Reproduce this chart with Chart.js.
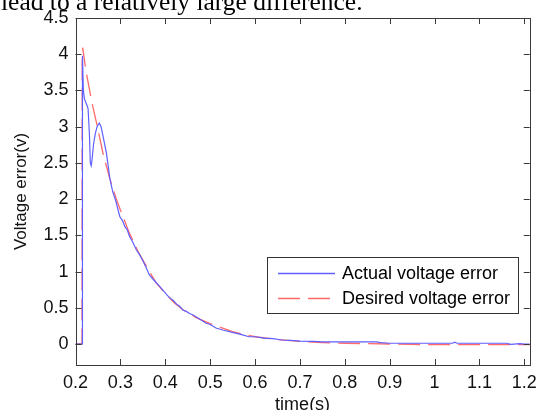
<!DOCTYPE html>
<html>
<head>
<meta charset="utf-8">
<script src="https://cdn.jsdelivr.net/npm/chart.js@4"></script>
<style>
  html, body { margin: 0; padding: 0; background: #fff; }
  #wrap { position: relative; width: 544px; height: 410px; overflow: hidden; }
  #caption { position: absolute; left: 1px; top: -11px; font: 25.5px "Liberation Serif", "DejaVu Serif", serif; line-height: 1; color: #000; white-space: nowrap; }
  canvas { position: absolute; left: 0; top: 0; }
</style>
</head>
<body>
<div id="wrap">
  <canvas id="c" width="544" height="410"></canvas>
  <div id="caption">lead to a relatively large difference.</div>
</div>
<script>
// ---- data ----
const seriesNames = ['Actual voltage error', 'Desired voltage error'];

const actualT = [0.2, 0.2145, 0.215, 0.216, 0.2175, 0.22, 0.224, 0.228, 0.231, 0.233, 0.235, 0.237, 0.24, 0.244, 0.248, 0.253, 0.257, 0.262, 0.269, 0.2764, 0.283, 0.29, 0.2986, 0.305, 0.31, 0.315, 0.3207, 0.328, 0.3355, 0.342, 0.35, 0.357, 0.365, 0.375, 0.387, 0.398, 0.409, 0.418, 0.425, 0.432, 0.439, 0.447, 0.454, 0.462, 0.47, 0.48, 0.49, 0.50, 0.513, 0.53, 0.55, 0.57, 0.5865, 0.60, 0.62, 0.64, 0.66, 0.68, 0.70, 0.73, 0.75, 0.80, 0.87, 0.88, 0.90, 0.95, 1.0, 1.04, 1.045, 1.05, 1.1, 1.16, 1.17, 1.19, 1.2, 1.212];
const actualV = [0, 0, 3.8, 3.98, 3.5, 3.38, 3.32, 3.25, 2.9, 2.5, 2.46, 2.55, 2.75, 2.9, 3.0, 3.05, 3.0, 2.85, 2.63, 2.29, 2.1, 1.97, 1.76, 1.70, 1.62, 1.58, 1.48, 1.40, 1.3, 1.24, 1.15, 1.06, 0.95, 0.88, 0.8, 0.72, 0.64, 0.60, 0.55, 0.52, 0.47, 0.45, 0.42, 0.40, 0.37, 0.33, 0.29, 0.27, 0.22, 0.19, 0.16, 0.13, 0.10, 0.10, 0.08, 0.075, 0.055, 0.05, 0.04, 0.035, 0.03, 0.03, 0.03, 0.02, 0.01, 0.01, 0.01, 0.01, 0.025, 0.01, 0.01, 0.01, -0.005, 0.005, 0, 0];

const desiredT = [0.2, 0.2145, 0.215, 0.216, 0.223, 0.236, 0.247, 0.261, 0.276, 0.29, 0.30, 0.32, 0.34, 0.36, 0.38, 0.40, 0.42, 0.44, 0.47, 0.50, 0.55, 0.60, 0.65, 0.70, 0.75, 0.80, 0.90, 1.0, 1.1, 1.2, 1.212];
const desiredV = [0, 0, 3.9, 4.09, 3.78, 3.35, 3.05, 2.64, 2.29, 2.02, 1.85, 1.53, 1.27, 1.05, 0.84, 0.70, 0.57, 0.47, 0.36, 0.28, 0.17, 0.10, 0.06, 0.035, 0.02, 0.01, 0.0, -0.01, -0.01, -0.01, -0.01];

const xTicks = [0.2, 0.3, 0.4, 0.5, 0.6, 0.7, 0.8, 0.9, 1.0, 1.1, 1.2];
const xTickLabels = ['0.2', '0.3', '0.4', '0.5', '0.6', '0.7', '0.8', '0.9', '1', '1.1', '1.2'];
const yTicks = [0, 0.5, 1, 1.5, 2, 2.5, 3, 3.5, 4, 4.5];
const yTickLabels = ['0', '0.5', '1', '1.5', '2', '2.5', '3', '3.5', '4', '4.5'];

const blue = 'rgb(95,95,255)';
const red = 'rgb(255,105,105)';
const axisColor = '#3a3a3a';
const FONT = '"Liberation Sans", Arial, Helvetica, sans-serif';

function pts(ts, vs) { return ts.map((t, i) => ({ x: t, y: vs[i] })); }

const boxAndTicks = {
  id: 'boxAndTicks',
  afterDatasetsDraw(chart) {
    const { ctx, chartArea: a, scales } = chart;
    const L = 6;
    ctx.save();
    ctx.strokeStyle = axisColor;
    ctx.lineWidth = 1;
    ctx.beginPath();
    scales.x.ticks.forEach(t => {
      const px = Math.round(scales.x.getPixelForValue(t.value)) + 0.5;
      ctx.moveTo(px, a.bottom); ctx.lineTo(px, a.bottom - L);
      ctx.moveTo(px, a.top); ctx.lineTo(px, a.top + L);
    });
    scales.y.ticks.forEach(t => {
      const py = Math.round(scales.y.getPixelForValue(t.value)) + 0.5;
      ctx.moveTo(a.left, py); ctx.lineTo(a.left + L, py);
      ctx.moveTo(a.right, py); ctx.lineTo(a.right - L, py);
    });
    ctx.stroke();
    ctx.strokeRect(Math.round(a.left) + 0.5, Math.round(a.top) + 0.5, Math.round(a.right - a.left), Math.round(a.bottom - a.top));
    ctx.restore();
  },
  afterDraw(chart) {
    // legend box inside the plot, MATLAB style
    const { ctx } = chart;
    const bx = 267, by = 257, bw = 251, bh = 56;
    ctx.save();
    ctx.fillStyle = '#fff';
    ctx.fillRect(bx, by, bw, bh);
    ctx.strokeStyle = '#333';
    ctx.lineWidth = 1;
    ctx.strokeRect(bx + 0.5, by + 0.5, bw, bh);
    ctx.font = '18px ' + FONT;
    ctx.textBaseline = 'middle';
    ctx.fillStyle = '#000';
    chart.data.datasets.forEach((ds, i) => {
      const y = by + 16 + i * 25;
      ctx.strokeStyle = ds.borderColor;
      ctx.lineWidth = 1.3;
      ctx.setLineDash(ds.borderDash || []);
      ctx.beginPath();
      ctx.moveTo(bx + 11, y + 0.5);
      ctx.lineTo(bx + 68, y + 0.5);
      ctx.stroke();
      ctx.setLineDash([]);
      ctx.fillText(ds.label, bx + 75, y + 1);
    });
    ctx.restore();
  }
};

new Chart(document.getElementById('c'), {
  type: 'line',
  data: {
    datasets: [
      { label: seriesNames[0], data: pts(actualT, actualV), borderColor: blue, borderWidth: 1.2, pointRadius: 0, tension: 0, fill: false },
      { label: seriesNames[1], data: pts(desiredT, desiredV), borderColor: red, borderWidth: 1.3, borderDash: [22, 8], pointRadius: 0, tension: 0, fill: false }
    ]
  },
  options: {
    responsive: false,
    animation: false,
    devicePixelRatio: 1,
    layout: { padding: { top: 18, right: 11.5, left: 0, bottom: 0 } },
    plugins: { legend: { display: false }, tooltip: { enabled: false } },
    scales: {
      x: {
        type: 'linear',
        min: 0.2, max: 1.212,
        afterBuildTicks: s => { s.ticks = xTicks.map(v => ({ value: v })); },
        afterFit: s => { s.height = 45; },
        grid: { display: false, drawTicks: false },
        border: { display: false },
        ticks: { padding: 7, color: '#111', font: { family: FONT, size: 18 }, maxRotation: 0, autoSkip: false,
                 callback: (v, i) => xTickLabels[i] },
        title: { display: true, text: 'time(s)', color: '#111', font: { family: FONT, size: 18 }, padding: { top: 0, bottom: -6 } }
      },
      y: {
        type: 'linear',
        min: -0.29, max: 4.5,
        afterBuildTicks: s => { s.ticks = yTicks.map(v => ({ value: v })); },
        afterFit: s => { s.width = 75.5; },
        grid: { display: false, drawTicks: false },
        border: { display: false },
        ticks: { padding: 7, color: '#111', font: { family: FONT, size: 18 }, autoSkip: false,
                 callback: (v, i) => yTickLabels[i] },
        title: { display: true, text: 'Voltage error(v)', color: '#111', font: { family: FONT, size: 17 }, padding: { top: 11, bottom: 0 } }
      }
    }
  },
  plugins: [boxAndTicks]
});
</script>
</body>
</html>
